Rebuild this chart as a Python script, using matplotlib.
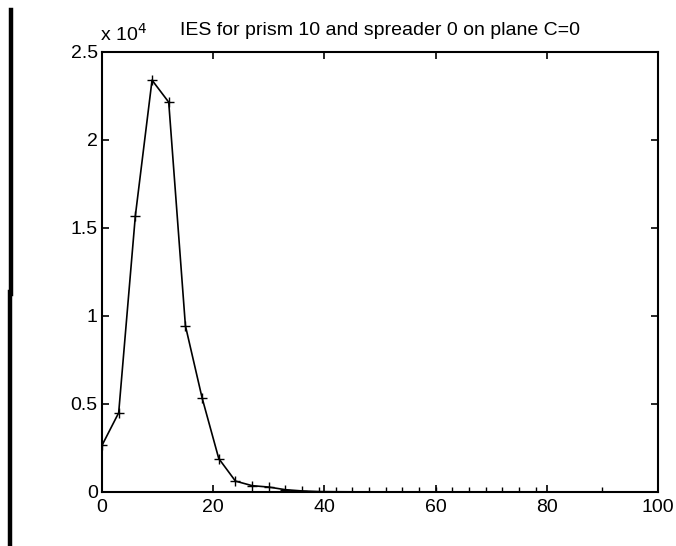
import matplotlib
matplotlib.use("Agg")
import matplotlib.pyplot as plt
from matplotlib.ticker import FuncFormatter
from matplotlib.lines import Line2D

plt.rcParams['font.family'] = ['Liberation Sans', 'DejaVu Sans']

# angle (deg) and intensity
angles = [0, 3, 6, 9, 12, 15, 18, 21, 24, 27, 30, 33, 36, 39, 42, 45, 48,
          51, 54, 57, 60, 63, 66, 69, 72, 75, 78, 90]
intensity = [2650, 4500, 15700, 23400, 22150, 9450, 5350, 1900, 620, 360,
             280, 130, 60, 25, 15, 10, 8, 6, 5, 4, 3, 3, 2, 2, 2, 1, 1, 0]
title = 'IES for prism 10 and spreader 0 on plane C=0'

fig = plt.figure(figsize=(6.76, 5.46), dpi=100)
ax = fig.add_axes([102 / 676, 1 - 492 / 546, 556 / 676, 440 / 546])

ax.plot(angles, intensity, color='black', linewidth=1.2, marker='+',
        markersize=7, markeredgewidth=1.0)

ax.set_xlim(0, 100)
ax.set_ylim(0, 25000)
ax.set_xticks([0, 20, 40, 60, 80, 100])
ax.set_yticks([0, 5000, 10000, 15000, 20000, 25000])
ax.yaxis.set_major_formatter(FuncFormatter(lambda v, p: ('%g' % (v / 1e4))))

ax.tick_params(direction='in', length=5, width=1.2, top=True, right=True,
               labelsize=14, colors='black')
ax.tick_params(axis='y', pad=3)
ax.tick_params(axis='x', pad=5)
for s in ax.spines.values():
    s.set_linewidth(1.5)

ax.set_title(title, fontsize=14, pad=12)
ax.text(-0.004, 1.016, r'x 10$^4$', transform=ax.transAxes, fontsize=14,
        ha='left', va='bottom')

# dark scan edge along the left border
fig.add_artist(Line2D([11 / 676, 11 / 676], [1 - 10 / 546, 1 - 294 / 546],
                      color='black', linewidth=3.2, transform=fig.transFigure))
fig.add_artist(Line2D([10 / 676, 10 / 676], [1 - 292 / 546, 0],
                      color='black', linewidth=3.2, transform=fig.transFigure))

fig.savefig('out.png', dpi=100)
